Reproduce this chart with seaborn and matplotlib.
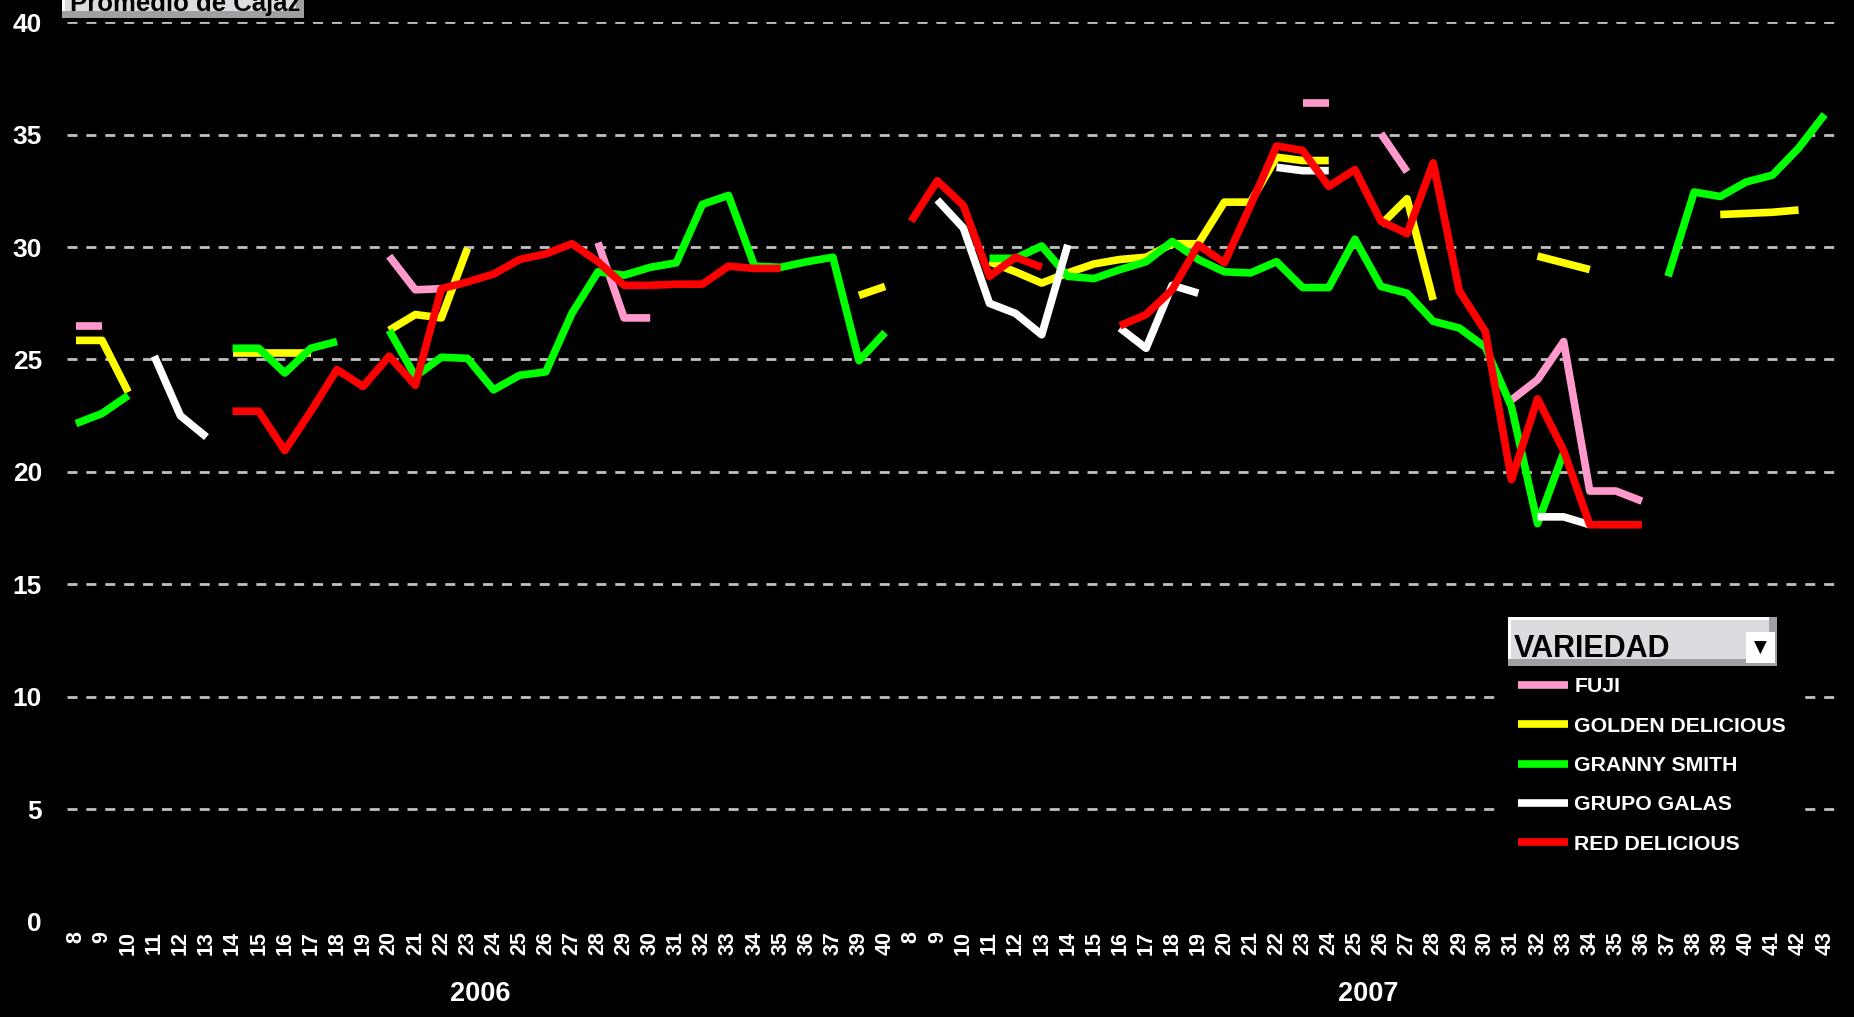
import numpy as np
import pandas as pd
import matplotlib.pyplot as plt
import seaborn as sns
from matplotlib.lines import Line2D
from matplotlib.patches import Rectangle
from matplotlib import transforms

N = np.nan

# --- data: weekly average boxes per variety (2006 has no week 38) ---
weeks_2006 = list(range(8, 38)) + [39, 40]
weeks_2007 = list(range(8, 44))

varieties = ['FUJI', 'GOLDEN DELICIOUS', 'GRANNY SMITH', 'GRUPO GALAS', 'RED DELICIOUS']
colors = ['#ff99cc', '#ffff00', '#00ff00', '#ffffff', '#ff0000']

fuji_2006 = [26.5, 26.5, N, N, N, N, N, N, N, N, N, N, 29.6, 28.1, 28.15, N,
             N, N, N, N, 30.2, 26.85, 26.85, N, N, N, N, N, N, N, N, N]
golden_2006 = [25.85, 25.85, 23.55, N, N, N, 25.3, 25.3, 25.3, 25.3, N, N, 26.3, 27.0, 26.85, 29.95,
               N, N, N, N, N, N, N, N, N, N, N, N, N, N, 27.85, 28.25]
granny_2006 = [22.15, 22.6, 23.4, N, N, N, 25.5, 25.5, 24.4, 25.5, 25.8, N, 26.3, 24.25, 25.1, 25.05,
               23.65, 24.3, 24.45, 27.05, 28.9, 28.75, 29.1, 29.3, 31.9, 32.3, 29.15, 29.1, 29.35, 29.55,
               24.95, 26.2]
galas_2006 = [N, N, N, 25.15, 22.5, 21.55, N, N, N, N, N, N, N, N, N, N,
              N, N, N, N, N, N, N, N, N, N, N, N, N, N, N, N]
red_2006 = [N, N, N, N, N, N, 22.7, 22.7, 20.95, 22.7, 24.55, 23.8, 25.15, 23.85, 28.15, 28.45,
            28.8, 29.45, 29.7, 30.15, 29.35, 28.3, 28.3, 28.35, 28.35, 29.15, 29.05, 29.05, N, N, N, N]

fuji_2007 = [N, N, N, N, N, N, N, N, N, N, N, N, N, N, N, 36.4, 36.4, N,
             35.05, 33.35, N, N, N, 23.2, 24.1, 25.8, 19.15, 19.15, 18.7, N, N, N, N, N, N, N]
golden_2007 = [N, N, N, 29.35, 28.9, 28.4, 28.85, 29.25, 29.45, 29.55, 30.15, 30.15, 32.0, 32.0, 34.0,
               33.85, 33.85, N, 31.0, 32.15, 27.65, N, N, N, 29.6, 29.3, 29.0, N, N, N, N,
               31.45, 31.5, 31.55, 31.65, N]
granny_2007 = [N, N, N, 29.5, 29.5, 30.05, 28.7, 28.6, 29.0, 29.35, 30.25, 29.45, 28.9, 28.85, 29.35,
               28.2, 28.2, 30.35, 28.25, 27.95, 26.7, 26.4, 25.55, 22.9, 17.7, 20.85, N, N, N,
               28.7, 32.45, 32.25, 32.9, 33.2, 34.4, 35.9]
galas_2007 = [N, 32.1, 30.85, 27.5, 27.05, 26.1, 30.1, N, 26.4, 25.5, 28.3, 27.95, N, N, 33.55,
              33.4, 33.4, N, N, N, N, N, N, N, 18.0, 18.0, 17.65, N, N, N, N, N, N, N, N, N]
red_2007 = [31.15, 32.95, 31.85, 28.7, 29.55, 29.1, N, N, 26.5, 27.0, 28.1, 30.1, 29.3, 31.85, 34.5,
            34.3, 32.7, 33.45, 31.15, 30.6, 33.75, 28.05, 26.25, 19.65, 23.25, 20.95, 17.65, 17.65,
            17.65, N, N, N, N, N, N, N]

series = {
    'FUJI': fuji_2006 + fuji_2007,
    'GOLDEN DELICIOUS': golden_2006 + golden_2007,
    'GRANNY SMITH': granny_2006 + granny_2007,
    'GRUPO GALAS': galas_2006 + galas_2007,
    'RED DELICIOUS': red_2006 + red_2007,
}
week_labels = [str(w) for w in weeks_2006 + weeks_2007]

# long table; every unbroken run of weeks becomes its own unit so gaps stay open
rows = []
seg = 0
for name in varieties:
    prev = None
    for pos, val in enumerate(series[name]):
        if np.isnan(val):
            prev = None
            continue
        if prev is None:
            seg += 1
        rows.append({'pos': pos, 'value': val, 'variedad': name, 'seg': seg})
        prev = pos
df = pd.DataFrame(rows)

# --- figure ---
W, H = 1854, 1017
plt.rcParams['font.family'] = ['Liberation Sans', 'DejaVu Sans']
plt.rcParams['font.weight'] = 'bold'

fig = plt.figure(figsize=(W / 100, H / 100), dpi=100, facecolor='black')
ax = fig.add_axes([67 / W, 1 - 921.5 / H, (1839 - 67) / W, (921.5 - 22.3) / H])
ax.set_facecolor('black')


def px(x, y):
    return x / W, 1 - y / H


sns.lineplot(data=df, x='pos', y='value', hue='variedad', units='seg', estimator=None,
             hue_order=varieties, palette=dict(zip(varieties, colors)), linewidth=5.5,
             sort=False, legend=False, ax=ax, solid_capstyle='butt', solid_joinstyle='round')

ax.set_xlim(-0.345, 67.55)
ax.set_ylim(0, 40)
ax.set_yticks(range(0, 41, 5))
ax.set_xticks(range(len(week_labels)))
ax.set_xticklabels(week_labels, rotation=90, fontsize=15.5, fontweight='bold', color='white', va='top')
ax.tick_params(axis='x', length=0, pad=7)
ax.tick_params(axis='y', length=0, pad=18, labelsize=19, labelcolor='white')
for lbl in ax.get_yticklabels():
    lbl.set_fontweight('bold')
ax.set_xlabel('')
ax.set_ylabel('')
for s in ax.spines.values():
    s.set_visible(False)
ax.set_axisbelow(True)
ax.yaxis.grid(True, color='#c0c0c0', linestyle=(0, (3.6, 3.2)), linewidth=2)
ax.xaxis.grid(False)
# the category axis sits on 0 and hides that gridline
ax.axhline(0, color='black', linewidth=4, zorder=1.5)

# year labels under each block of weeks
trans = transforms.blended_transform_factory(ax.transData, fig.transFigure)
ax.text((len(weeks_2006) - 1) / 2, 1 - 994 / H, '2006', transform=trans, ha='center', va='center',
        fontsize=19.5, fontweight='bold', color='white')
ax.text(len(weeks_2006) + (len(weeks_2007) - 1) / 2, 1 - 994 / H, '2007', transform=trans,
        ha='center', va='center', fontsize=19.5, fontweight='bold', color='white')

# legend
handles = [Line2D([0], [0], color=c, linewidth=5.5, solid_capstyle='butt') for c in colors]
leg = ax.legend(handles, varieties, loc='upper left', bbox_to_anchor=px(1503, 662),
                bbox_transform=fig.transFigure, borderaxespad=0, borderpad=0.72,
                frameon=True, facecolor='black', edgecolor='black', framealpha=1, fancybox=False,
                fontsize=15.3, handlelength=2.35, handletextpad=0.29, labelspacing=0.96)
for t in leg.get_texts():
    t.set_color('white')
    t.set_fontweight('bold')

# pivot field buttons (legend header and data field)
def button(x0, y0, x1, y1):
    fig.add_artist(Rectangle(px(x0, y1), (x1 - x0) / W, (y1 - y0) / H, transform=fig.transFigure,
                             facecolor='#a0a0a4', edgecolor='none', zorder=5))
    fig.add_artist(Rectangle(px(x0, y1 - 7), (x1 - x0 - 8) / W, (y1 - 7 - y0) / H,
                             transform=fig.transFigure, facecolor='white', edgecolor='none', zorder=5))
    fig.add_artist(Rectangle(px(x0 + 3, y1 - 7), (x1 - x0 - 11) / W, (y1 - 7 - y0 - 3) / H,
                             transform=fig.transFigure, facecolor='#dcdce0', edgecolor='none', zorder=5))


button(1508, 617, 1777, 666)
fig.add_artist(Rectangle(px(1746, 663), 29 / W, 31 / H, transform=fig.transFigure,
                         facecolor='white', edgecolor='none', zorder=6))
fig.text(*px(1760, 648), '\u25bc', fontsize=12, color='black', ha='center', va='center', zorder=7,
         family=['DejaVu Sans'])
fig.text(*px(1514, 657), 'VARIEDAD', fontsize=22, fontweight='bold', color='black',
         ha='left', va='baseline', zorder=7)

button(62, -10, 304, 18)
fig.text(*px(70, 11), 'Promedio de Cajaz', fontsize=18.5, fontweight='bold', color='black',
         ha='left', va='baseline', zorder=7)

fig.savefig('out.png', dpi=100, facecolor='black')
